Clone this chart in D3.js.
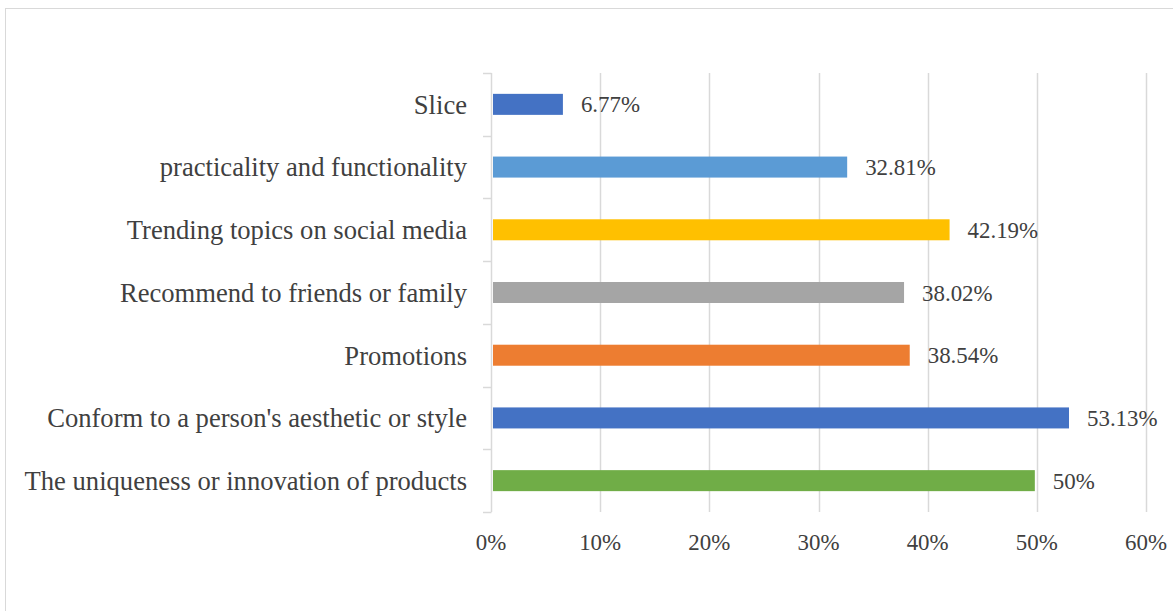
<!DOCTYPE html>
<html>
<head>
<meta charset="utf-8">
<script src="https://cdn.jsdelivr.net/npm/d3@7"></script>
<style>
  html, body { margin: 0; padding: 0; background: #fff; }
  svg { display: block; }
  text { font-family: "Liberation Serif", "Times New Roman", serif; fill: #404040; }
</style>
</head>
<body>
<svg id="chart" width="1173" height="611"></svg>
<script>
// Factors, listed top to bottom
const categories = [
  "Slice",
  "practicality and functionality",
  "Trending topics on social media",
  "Recommend to friends or family",
  "Promotions",
  "Conform to a person's aesthetic or style",
  "The uniqueness or innovation of products"
];
const values = [6.77, 32.81, 42.19, 38.02, 38.54, 53.13, 50];
const valueLabels = ["6.77%", "32.81%", "42.19%", "38.02%", "38.54%", "53.13%", "50%"];
const barColors = ["#4472C4", "#5B9BD5", "#FFC000", "#A5A5A5", "#ED7D31", "#4472C4", "#70AD47"];
const xTicks = [0, 10, 20, 30, 40, 50, 60];
const xTickLabels = ["0%", "10%", "20%", "30%", "40%", "50%", "60%"];

const svg = d3.select("#chart");
const categoryFontSize = 26.6;
const numberFontSize = 22.9;

// Outer chart frame
svg.append("rect")
  .attr("x", 5.5).attr("y", 8.5)
  .attr("width", 1180).attr("height", 620)
  .attr("fill", "none").attr("stroke", "#d9d9d9").attr("stroke-width", 1);

const plot = { left: 491, right: 1146, top: 73, bottom: 512 };

const x = d3.scaleLinear().domain([0, 60]).range([plot.left, plot.right]);
const y = d3.scaleBand()
  .domain(categories)
  .range([plot.top, plot.bottom])
  .paddingInner(0.665)
  .paddingOuter(0.3325);

// Vertical gridlines
svg.append("g")
  .selectAll("line")
  .data(xTicks.filter(t => t > 0))
  .join("line")
  .attr("x1", d => Math.round(x(d)) + 0.5)
  .attr("x2", d => Math.round(x(d)) + 0.5)
  .attr("y1", plot.top).attr("y2", plot.bottom)
  .attr("stroke", "#d9d9d9").attr("stroke-width", 1.5);

// Category axis with tick marks between categories
const bounds = d3.range(categories.length + 1).map(i => plot.top + i * y.step());
const axisG = svg.append("g");
axisG.append("line")
  .attr("x1", plot.left + 0.5).attr("x2", plot.left + 0.5)
  .attr("y1", plot.top).attr("y2", plot.bottom)
  .attr("stroke", "#d9d9d9").attr("stroke-width", 1.5);
axisG.selectAll("line.tick")
  .data(bounds)
  .join("line")
  .attr("class", "tick")
  .attr("x1", plot.left - 8).attr("x2", plot.left + 0.5)
  .attr("y1", d => Math.round(d) + 0.5).attr("y2", d => Math.round(d) + 0.5)
  .attr("stroke", "#d9d9d9").attr("stroke-width", 1.5);

// Category labels
svg.append("g")
  .selectAll("text")
  .data(categories)
  .join("text")
  .attr("x", plot.left - 24)
  .attr("y", d => y(d) + y.bandwidth() / 2)
  .attr("dy", "0.35em")
  .attr("text-anchor", "end")
  .attr("font-size", categoryFontSize)
  .text(d => d);

// Bars
svg.append("g")
  .selectAll("rect")
  .data(values)
  .join("rect")
  .attr("x", x(0) + 2)
  .attr("y", (d, i) => y(categories[i]))
  .attr("width", d => Math.max(0, x(d) - x(0) - 4))
  .attr("height", y.bandwidth())
  .attr("fill", (d, i) => barColors[i]);

// Value labels
svg.append("g")
  .selectAll("text")
  .data(values)
  .join("text")
  .attr("x", d => x(d) + 16)
  .attr("y", (d, i) => y(categories[i]) + y.bandwidth() / 2)
  .attr("dy", "0.35em")
  .attr("font-size", numberFontSize)
  .text((d, i) => valueLabels[i]);

// Percentage tick labels
svg.append("g")
  .selectAll("text")
  .data(xTicks)
  .join("text")
  .attr("x", d => x(d))
  .attr("y", 542)
  .attr("dy", "0.35em")
  .attr("text-anchor", "middle")
  .attr("font-size", numberFontSize)
  .text((d, i) => xTickLabels[i]);
</script>
</body>
</html>
